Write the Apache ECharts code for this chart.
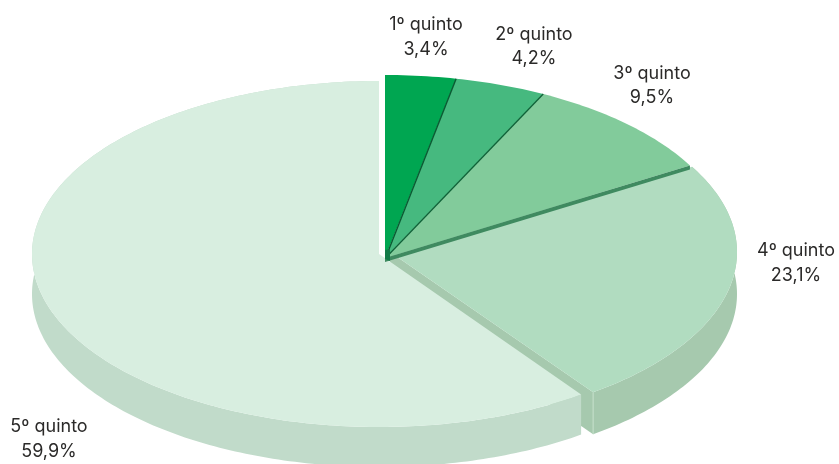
<!DOCTYPE html>
<html><head><meta charset="utf-8">
<style>html,body{margin:0;padding:0;background:#fff}#c{width:839px;height:464px}</style>
<script src="https://cdn.jsdelivr.net/npm/echarts@6/dist/echarts.min.js"></script>
</head><body><div id="c"></div>
<script>
const categories = ['1º quinto','2º quinto','3º quinto','4º quinto','5º quinto'];
const shareLabels = ['3,4%','4,2%','9,5%','23,1%','59,9%'];
const shares = [3.4,4.2,9.5,23.1,59.9];

// Drawing style per slice: arc centre, apex, colours, depth, paint order, small angle trims (deg)
const sliceStyles = [
  {cx:385,cy:248,ax:385,ay:258,top:'#00a651',edge:'#0a5a32',edgeW:1.4,wall:0,z:6,lx:426,ly:37,t0:0,t1:-0.4},
  {cx:385,cy:248,ax:385,ay:258,top:'#46b97f',edge:'#0f6238',edgeW:1.3,wall:0,z:5,lx:534,ly:46.5,t0:-0.4,t1:-0.2},
  {cx:385,cy:248,ax:385,ay:258,top:'#82cb9b',band:'#3f8a60',bandH:4,wall:0,z:4,lx:652,ly:85.5,t0:-0.2,t1:0},
  {cx:390,cy:252,ax:390,ay:252,top:'#b1dcc0',side:'#a6c9ae',seam:'#c5e0cc',wall:42,z:1,lx:796,ly:263,t0:-1,t1:-0.4},
  {cx:379,cy:254,ax:379,ay:254,top:'#d8eee0',side:'#c1dbca',wall:40,z:3,lx:49,ly:439,t0:-0.2,t1:0}
];
const RX = 347, RY = 173;
const total = shares.reduce((a,b)=>a+b,0);
const deg = Math.PI/180;

function renderSlice(params, api){
  const i = api.value(0), v = api.value(1), s = sliceStyles[i];
  let before = 0;
  for(let k=0;k<i;k++) before += shares[k];
  const a0 = before/total*2*Math.PI + s.t0*deg, a1 = (before+v)/total*2*Math.PI + s.t1*deg;
  const arc = [];
  const n = Math.max(8,Math.round((a1-a0)*60));
  for(let k=0;k<=n;k++){
    const t = a0+(a1-a0)*k/n;
    arc.push([s.cx+RX*Math.sin(t), s.cy-RY*Math.cos(t)]);
  }
  const last = arc[n];
  const kids = [];
  if(s.wall){
    const low = arc.map(p=>[p[0],p[1]+s.wall]).reverse();
    kids.push({type:'polygon',z2:s.z,shape:{points:arc.concat(low)},style:{fill:s.side}});
    if(s.seam){
      kids.push({type:'polygon',z2:s.z,shape:{points:[[s.ax,s.ay],last,[last[0],last[1]+s.wall],[s.ax,s.ay+s.wall]]},style:{fill:s.side}});
      kids.push({type:'line',z2:s.z+0.5,shape:{x1:last[0],y1:last[1],x2:last[0],y2:last[1]+s.wall},style:{stroke:s.seam,lineWidth:1}});
    }
  }
  kids.push({type:'polygon',z2:s.z+1,shape:{points:[[s.ax,s.ay]].concat(arc)},style:{fill:s.top}});
  if(s.edge){
    kids.push({type:'line',z2:s.z+3,shape:{x1:s.ax+0.5,y1:s.ay,x2:last[0],y2:last[1]},style:{stroke:s.edge,lineWidth:s.edgeW}});
  }
  if(s.band){
    kids.push({type:'polygon',z2:s.z+2,shape:{points:[[s.ax,s.ay],last,[last[0],last[1]+s.bandH],[s.ax,s.ay+s.bandH]]},style:{fill:s.band}});
    // dark hub where the three narrow slices meet
    kids.push({type:'polygon',z2:12,shape:{points:[[s.ax,s.ay-8],[s.ax+5,s.ay-9],[s.ax+5,s.ay+3],[s.ax,s.ay+1]]},style:{fill:'#137a48'}});
  }
  kids.push({type:'text',z2:20,style:{
    x:s.lx,y:s.ly,text:categories[i]+'\n'+shareLabels[i],
    fill:'#2b2a29',font:'18px Inter, sans-serif',
    align:'center',verticalAlign:'middle',lineHeight:24.5
  }});
  return {type:'group',children:kids};
}

const chart = echarts.init(document.getElementById('c'),null,{renderer:'canvas'});
chart.setOption({
  animation:false,
  backgroundColor:'#fff',
  series:[{
    type:'custom',
    coordinateSystem:'none',
    silent:true,
    renderItem:renderSlice,
    data:shares.map((v,i)=>[i,v])
  }]
});
</script></body></html>
